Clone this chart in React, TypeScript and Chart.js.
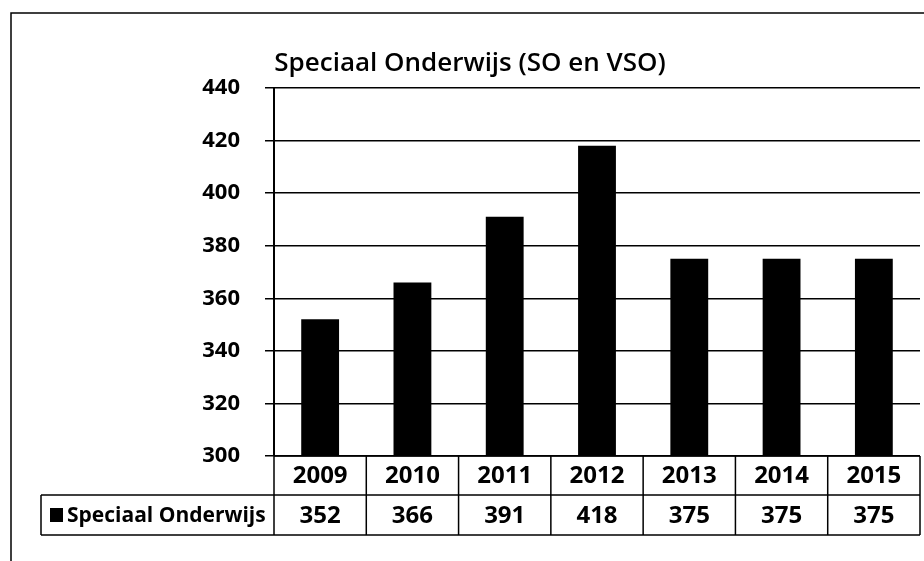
import React, { useEffect, useRef } from "react";
import { Chart, registerables } from "chart.js";

Chart.register(...registerables);

const categories = ["2009", "2010", "2011", "2012", "2013", "2014", "2015"];
const values = [352, 366, 391, 418, 375, 375, 375];
const seriesName = "Speciaal Onderwijs";
const chartTitle = "Speciaal Onderwijs (SO en VSO)";
const yMin = 300;
const yMax = 440;
const yStep = 20;

const FONT = "'Open Sans', 'Liberation Sans', sans-serif";

const tablePlugin = {
  id: "tablePlugin",
  afterDraw(chart: any) {
    const ctx = chart.ctx;
    const area = chart.chartArea;
    const n = categories.length;
    const colW = (area.right - area.left) / n;
    const row1Top = area.bottom;
    const row1Bot = area.bottom + 39;
    const row2Bot = row1Bot + 40;
    const legendLeft = 41;
    ctx.save();
    // outer frame
    ctx.strokeStyle = "#000";
    ctx.lineWidth = 1.5;
    ctx.beginPath();
    ctx.moveTo(11, 561);
    ctx.lineTo(11, 13);
    ctx.lineTo(924, 13);
    ctx.stroke();

    // title
    ctx.fillStyle = "#000";
    ctx.font = `600 26px ${FONT}`;
    ctx.textAlign = "center";
    ctx.textBaseline = "middle";
    ctx.fillText(chartTitle, 470, 64);

    // table grid
    ctx.lineWidth = 1.5;
    ctx.beginPath();
    ctx.moveTo(area.left, row1Top);
    ctx.lineTo(area.right, row1Top);
    ctx.moveTo(legendLeft, row1Bot);
    ctx.lineTo(area.right, row1Bot);
    ctx.moveTo(legendLeft, row2Bot);
    ctx.lineTo(area.right, row2Bot);
    ctx.moveTo(legendLeft, row1Bot);
    ctx.lineTo(legendLeft, row2Bot);
    for (let i = 0; i <= n; i++) {
      const x = area.left + i * colW;
      ctx.moveTo(x, row1Top);
      ctx.lineTo(x, row2Bot);
    }
    ctx.stroke();

    // texts
    ctx.font = `bold 24px ${FONT}`;
    ctx.textAlign = "center";
    ctx.textBaseline = "middle";
    const xs = chart.scales.x;
    categories.forEach((c, i) => {
      const cx = xs.getPixelForValue(i);
      ctx.fillText(c, cx, (row1Top + row1Bot) / 2 + 1);
      ctx.fillText(String(values[i]), cx, (row1Bot + row2Bot) / 2 + 1);
    });

    // legend cell
    ctx.fillRect(50, 508, 13, 14);
    ctx.font = `bold 21px ${FONT}`;
    ctx.textAlign = "left";
    ctx.fillText(seriesName, 67, (row1Bot + row2Bot) / 2 + 1);
    ctx.restore();
  },
};

export default function App() {
  const ref = useRef<HTMLCanvasElement>(null);
  useEffect(() => {
    document.body.style.margin = "0";
    const chart = new Chart(ref.current!, {
      type: "bar",
      data: {
        labels: categories,
        datasets: [
          {
            label: seriesName,
            data: values,
            backgroundColor: "#000",
            borderWidth: 0,
            barPercentage: 0.41,
            categoryPercentage: 1,
          },
        ],
      },
      options: {
        animation: false,
        responsive: false,
        layout: { padding: { left: 11, top: 88, right: 4, bottom: 105 } },
        plugins: {
          legend: { display: false },
          title: { display: false },
          tooltip: { enabled: false },
        },
        scales: {
          x: { display: false },
          y: {
            min: yMin,
            max: yMax,
            afterFit: (scale: any) => {
              scale.width = 263;
            },
            ticks: {
              stepSize: yStep,
              color: "#000",
              padding: 25,
              font: { family: FONT, size: 22, weight: "bold" },
            },
            grid: { color: "#000", lineWidth: 1.5, tickLength: 9 },
            border: { color: "#000", width: 2 },
          },
        },
      },
      plugins: [tablePlugin],
    });
    return () => chart.destroy();
  }, []);
  return (
    <div style={{ width: 924, height: 561, background: "#fff" }}>
      <canvas ref={ref} width={924} height={561} />
    </div>
  );
}
